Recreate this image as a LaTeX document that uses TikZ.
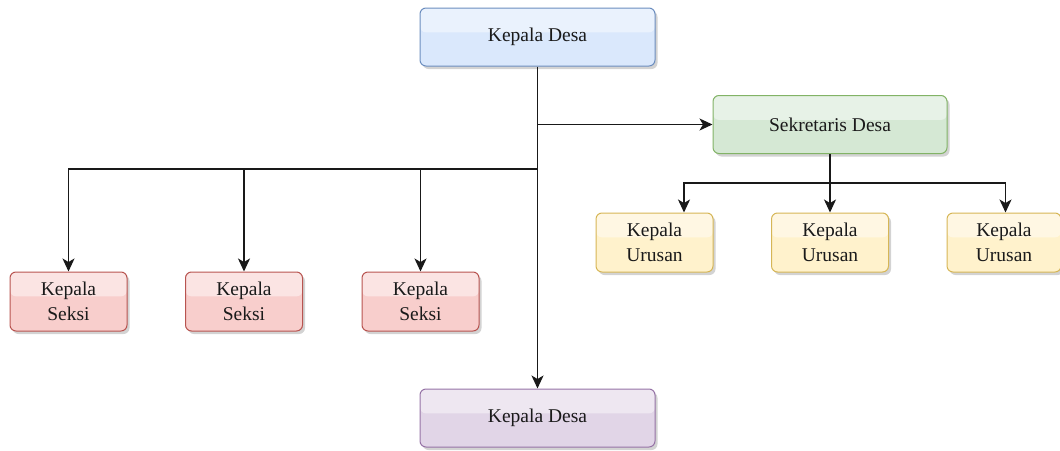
\documentclass[tikz,border=0pt]{standalone}
\usepackage{fontspec}
\setmainfont{Liberation Serif}
\usetikzlibrary{arrows.meta,shadows}
\definecolor{bfill}{HTML}{DAE8FC}\definecolor{bline}{HTML}{6C8EBF}
\definecolor{gfill}{HTML}{D5E8D4}\definecolor{gline}{HTML}{82B366}
\definecolor{rfill}{HTML}{F8CECC}\definecolor{rline}{HTML}{B85450}
\definecolor{yfill}{HTML}{FFF2CC}\definecolor{yline}{HTML}{D6B656}
\definecolor{pfill}{HTML}{E1D5E7}\definecolor{pline}{HTML}{9673A6}
\definecolor{txt}{HTML}{1A1A1A}
\tikzset{
  glassbox/.style n args={2}{draw=#2, fill=#1, line width=1pt, rounded corners=6pt,
    drop shadow={shadow xshift=2.5pt, shadow yshift=-3pt, opacity=0.35, fill=gray},
    path picture={\fill[white,opacity=0.45] (path picture bounding box.north west) rectangle ([yshift=-0.42*58pt]path picture bounding box.north east);},
    text=txt, font=\fontsize{19.5}{25}\selectfont, align=center, inner sep=0pt},
  widebox/.style={minimum width=235pt, minimum height=58pt},
  smallbox/.style={minimum width=117pt, minimum height=59pt},
  conn/.style={line width=1.4pt, draw=black!90},
  arr/.style={conn, -{Stealth[length=13pt,width=12pt,inset=3.5pt]}}
}
\begin{document}
\begin{tikzpicture}[x=1pt,y=-1pt]
\useasboundingbox (0,0) rectangle (1060,450);
\node[glassbox={bfill}{bline}, widebox] (top) at (537.5,37) {Kepala Desa};
\node[glassbox={gfill}{gline}, widebox, minimum width=234pt] (sek) at (830,124.5) {Sekretaris Desa};
\node[glassbox={pfill}{pline}, widebox] (bot) at (537.5,418) {Kepala Desa};
\node[glassbox={rfill}{rline}, smallbox] (s1) at (68.5,301.5) {Kepala\\Seksi};
\node[glassbox={rfill}{rline}, smallbox] (s2) at (244,301.5) {Kepala\\Seksi};
\node[glassbox={rfill}{rline}, smallbox] (s3) at (420.5,301.5) {Kepala\\Seksi};
\node[glassbox={yfill}{yline}, smallbox] (u1) at (654.5,242.5) {Kepala\\Urusan};
\node[glassbox={yfill}{yline}, smallbox] (u2) at (830,242.5) {Kepala\\Urusan};
\node[glassbox={yfill}{yline}, smallbox, minimum width=114pt] (u3) at (1004,242.5) {Kepala\\Urusan};
\coordinate (j1) at (537.5,124.5);
\coordinate (j2) at (537.5,169);
\coordinate (j3) at (830,183);
\draw[arr] (top.south) -- (bot.north);
\draw[arr] (j1) -- (sek.west);
\draw[arr] (j2) -| (s1.north);
\draw[arr] (j2) -| (s2.north);
\draw[arr] (j2) -| (s3.north);
\draw[arr] (sek.south) -- (u2.north);
\draw[arr] (j3) -| ([xshift=29.5pt]u1.north);
\draw[arr] (j3) -| ([xshift=1.5pt]u3.north);
\end{tikzpicture}
\end{document}
